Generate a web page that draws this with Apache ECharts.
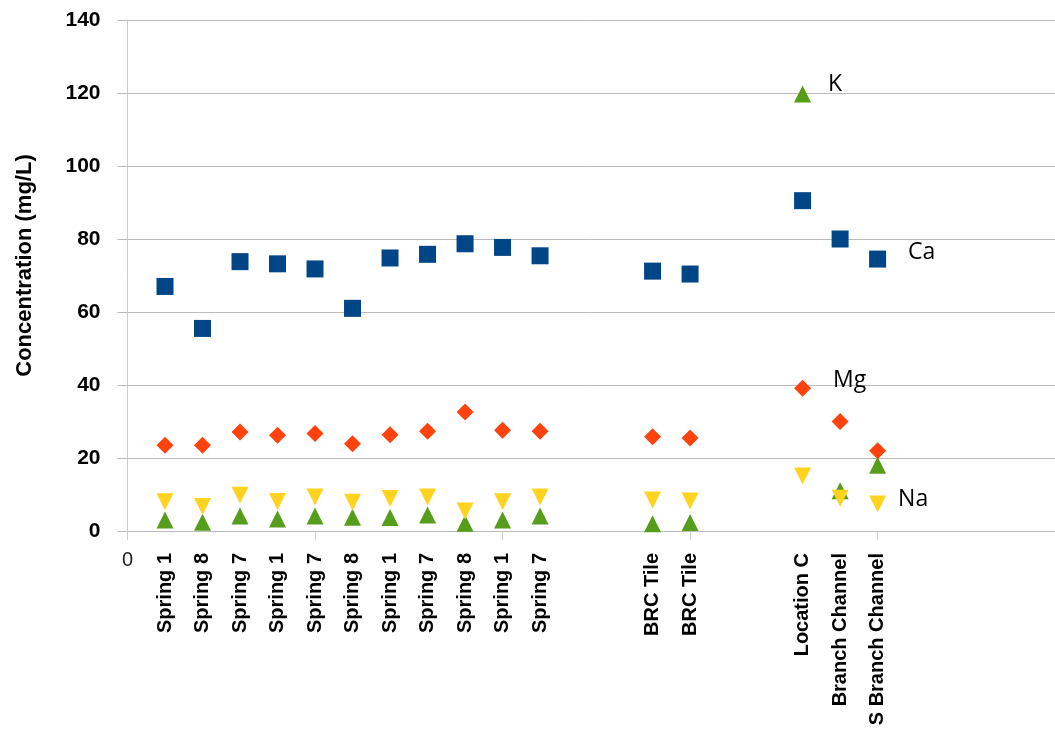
<!DOCTYPE html>
<html>
<head>
<meta charset="utf-8">
<script src="https://cdn.jsdelivr.net/npm/echarts@6/dist/echarts.min.js"></script>
<style>html,body{margin:0;padding:0;background:#fff;}#c{width:1055px;height:734px;}</style>
</head>
<body>
<div id="c"></div>
<script>
var categories = ['Spring 1','Spring 8','Spring 7','Spring 1','Spring 7','Spring 8','Spring 1','Spring 7','Spring 8','Spring 1','Spring 7','BRC Tile','BRC Tile','Location C','Branch Channel','S Branch Channel'];
var positions = [1,2,3,4,5,6,7,8,9,10,11,14,15,18,19,20];
var ca = [67, 55.5, 73.8, 73.2, 71.8, 61, 74.8, 75.8, 78.7, 77.7, 75.4, 71.2, 70.4, 90.5, 80, 74.5];
var mg = [23.5, 23.5, 27.1, 26.2, 26.7, 23.9, 26.4, 27.3, 32.6, 27.6, 27.3, 25.8, 25.5, 39.1, 30.0, 22.0];
var na = [8.0, 6.7, 9.8, 8.1, 9.3, 7.9, 8.9, 9.3, 5.5, 8.0, 9.3, 8.5, 8.2, 15.1, 9.0, 7.4];
var k  = [3.0, 2.4, 4.1, 3.3, 4.1, 3.8, 3.7, 4.4, 2.1, 3.0, 4.1, 2.0, 2.3, 119.7, 11.0, 18.0];
var yTicks = [0, 20, 40, 60, 80, 100, 120, 140];

function build(values, labelIdx, labelOpt) {
  return values.map(function (v, i) {
    var item = { value: [positions[i], v] };
    if (i === labelIdx) item.label = labelOpt;
    return item;
  });
}
function lab(dist, dy) {
  return { show: true, position: 'right', distance: dist, offset: [0, dy],
    formatter: '{a}', color: '#000', fontFamily: 'Open Sans', fontSize: 23 };
}

var xMax = 24.73;
var chart = echarts.init(document.getElementById('c'));
chart.setOption({
  animation: false,
  backgroundColor: '#fff',
  grid: { left: 127.5, top: 20, right: 0, bottom: 203, containLabel: false },
  xAxis: [{
    type: 'value', min: 0, max: xMax, interval: 5,
    axisLine: { show: true, lineStyle: { color: '#bbbbbb', width: 1 } },
    axisTick: { show: true, length: 9, lineStyle: { color: '#cccccc' } },
    splitLine: { show: false },
    axisLabel: { margin: 19, color: '#222', fontFamily: 'Liberation Sans', fontSize: 20, showMaxLabel: false,
      formatter: function (v) { return v === 0 ? '0' : ''; } }
  }, {
    type: 'value', min: 0, max: xMax, interval: 1, position: 'bottom',
    axisLine: { show: false }, axisTick: { show: false }, splitLine: { show: false },
    axisLabel: { margin: 22, rotate: 90, color: '#000', fontFamily: 'Liberation Sans', fontWeight: 'bold', fontSize: 20, showMaxLabel: false,
      formatter: function (v) { var i = positions.indexOf(v); return i >= 0 ? categories[i] : ''; } }
  }],
  yAxis: {
    type: 'value', min: yTicks[0], max: yTicks[yTicks.length - 1], interval: 20,
    name: 'Concentration (mg/L)', nameLocation: 'middle', nameGap: 92,
    nameTextStyle: { color: '#000', fontFamily: 'Liberation Sans', fontWeight: 'bold', fontSize: 22, padding: [0, 0, 0, 20] },
    axisLine: { show: true, lineStyle: { color: '#cccccc' } },
    axisTick: { show: true, length: 10, lineStyle: { color: '#bbbbbb' } },
    splitLine: { show: true, lineStyle: { color: '#bbbbbb', width: 1 } },
    axisLabel: { margin: 27, color: '#000', fontFamily: 'Liberation Sans', fontWeight: 'bold', fontSize: 21 }
  },
  series: [
    { name: 'K', type: 'scatter', symbol: 'triangle', symbolSize: 17, itemStyle: { color: '#579d1c', opacity: 1 },
      data: build(k, 13, lab(17, -10)) },
    { name: 'Na', type: 'scatter', symbol: 'triangle', symbolRotate: 180, symbolSize: 17, itemStyle: { color: '#ffd320', opacity: 1 },
      data: build(na, 15, lab(12, -5)) },
    { name: 'Mg', type: 'scatter', symbol: 'diamond', symbolSize: 17, itemStyle: { color: '#ff420e', opacity: 1 },
      data: build(mg, 13, lab(22, -8)) },
    { name: 'Ca', type: 'scatter', symbol: 'rect', symbolSize: 17, itemStyle: { color: '#004586', opacity: 1 },
      data: build(ca, 15, lab(22, -7)) }
  ]
});
</script>
</body>
</html>
